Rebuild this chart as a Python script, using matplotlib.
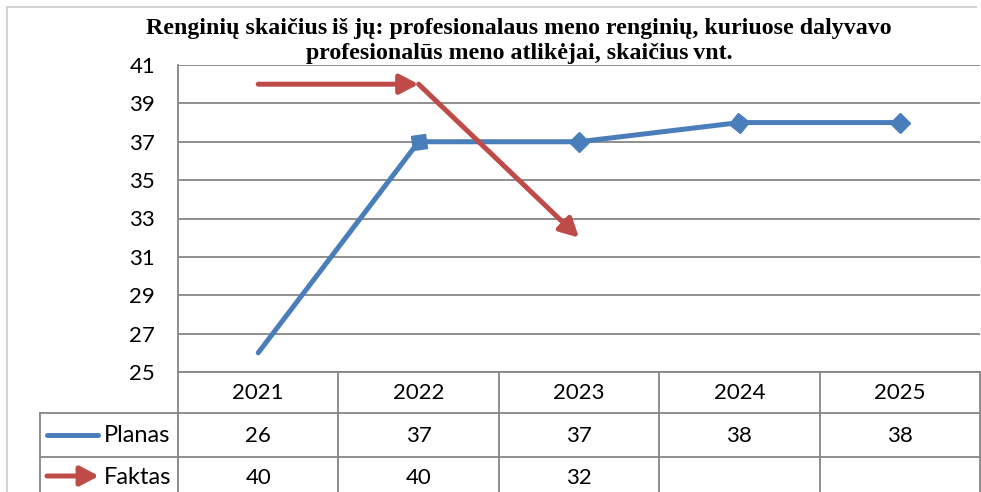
import numpy as np
import matplotlib
matplotlib.use('Agg')
import matplotlib.pyplot as plt
from matplotlib.lines import Line2D
from matplotlib.markers import MarkerStyle
from matplotlib.patches import FancyArrowPatch
from matplotlib.transforms import Affine2D, blended_transform_factory

# Data
years = ['2021', '2022', '2023', '2024', '2025']
planas = [26, 37, 37, 38, 38]
faktas = [40, 40, 32]
series_names = ['Planas', 'Faktas']
title_lines = ['Renginių skaičius\u2009iš jų: profesionalaus meno renginių, kuriuose dalyvavo',
               'profesionalūs meno atlikėjai, skaičius\u2009vnt.']

BLUE = '#4a7ebb'
RED = '#be4b48'
GRID = '#868686'
FONT = 'Lato'
FS = 16

W, H = 981, 492
fig = plt.figure(figsize=(W / 100, H / 100), dpi=100)


def fx(px):
    return px / W


def fy(py):
    return 1 - py / H


# plot area in pixels
left, right, top, bottom = 178, 980, 65, 372
ax = fig.add_axes([fx(left), fy(bottom), fx(right - left), (bottom - top) / H])

x = np.arange(1, len(years) + 1)
ax.set_xlim(0.5, len(years) + 0.5)
ax.set_ylim(25, 41)
ax.set_yticks(np.arange(25, 42, 2))
ax.set_xticks([])
ax.yaxis.grid(True, color=GRID, linewidth=1.3)
ax.set_axisbelow(True)
ax.tick_params(axis='y', length=0, pad=16.5, labelsize=FS)
for lbl in ax.get_yticklabels():
    lbl.set_fontfamily(FONT)
for side in ['top', 'right']:
    ax.spines[side].set_visible(False)
for side in ['left', 'bottom']:
    ax.spines[side].set_color(GRID)
    ax.spines[side].set_linewidth(1.3)

# Planas: line with diamond ends on every segment
ax.plot(x, planas, color=BLUE, linewidth=3.6, solid_capstyle='round', zorder=3)
fig.canvas.draw()
pts = ax.transData.transform(np.column_stack([x, planas]))
for i in range(1, len(planas)):
    d = pts[i] - pts[i - 1]
    ang = np.degrees(np.arctan2(d[1], d[0]))
    m = MarkerStyle('D', transform=Affine2D().rotate_deg(ang))
    ax.plot(x[i], planas[i], marker=m, markersize=10, color=BLUE,
            linestyle='none', zorder=3)

# Faktas: arrows on every segment
arrow_style = '-|>,head_length=0.8,head_width=0.42'
xf = x[:len(faktas)]
for i in range(1, len(faktas)):
    ax.annotate('', xy=(xf[i], faktas[i]), xytext=(xf[i - 1], faktas[i - 1]),
                arrowprops=dict(arrowstyle=arrow_style, mutation_scale=14,
                                color=RED, lw=3.6, shrinkA=0, shrinkB=0,
                                capstyle='round'),
                zorder=4)

# Data table below the plot
tr = blended_transform_factory(ax.transData, ax.transAxes)
ph = bottom - top


def ay(py):
    return -(py - bottom) / ph


rows = [372, 413, 457, 510]
label_left = 0.5 - (left - 40) / ((right - left) / len(years))

tk = dict(color=GRID, linewidth=1.3, clip_on=False, transform=tr)
for r in rows[1:3]:
    ax.add_line(Line2D([label_left, len(years) + 0.5], [ay(r), ay(r)], **tk))
for b in np.arange(0.5, len(years) + 1.5, 1):
    ax.add_line(Line2D([b, b], [ay(rows[0]), ay(rows[3])], **tk))
ax.add_line(Line2D([label_left, label_left], [ay(rows[1]), ay(rows[3])], **tk))

txt = dict(transform=tr, ha='center', va='center', fontsize=FS,
           fontfamily=FONT, clip_on=False)
for i, yr in enumerate(years):
    ax.text(x[i], ay(393), yr, **txt)
for i, v in enumerate(planas):
    ax.text(x[i], ay(436), str(v), **txt)
for i, v in enumerate(faktas):
    ax.text(x[i], ay(478), str(v), **txt)

# legend keys inside the table
ky1 = fy(435)
ky2 = fy(476)
fig.add_artist(Line2D([fx(47), fx(98)], [ky1, ky1], color=BLUE, linewidth=3.6,
                      solid_capstyle='round'))
fig.text(fx(104), fy(436), series_names[0], fontsize=17, fontfamily=FONT, va='center')
fig.add_artist(FancyArrowPatch(
    (fx(47), ky2), (fx(99), ky2), transform=fig.transFigure,
    arrowstyle=arrow_style, mutation_scale=14,
    color=RED, lw=3.6, shrinkA=0, shrinkB=0, capstyle='round'))
fig.text(fx(104), fy(478), series_names[1], fontsize=17, fontfamily=FONT, va='center')

# chart border
fig.add_artist(Line2D([fx(7), fx(976)], [fy(7), fy(7)], color='#d4d4d4', linewidth=1.5))
fig.add_artist(Line2D([fx(7), fx(7)], [fy(7), 0], color='#d4d4d4', linewidth=1.5))

for line, base in zip(title_lines, [34, 59]):
    fig.text(fx(519), fy(base), line, ha='center', va='baseline', fontsize=17.2,
             fontfamily='Liberation Serif', fontweight='bold')

fig.savefig('out.png', dpi=100)
